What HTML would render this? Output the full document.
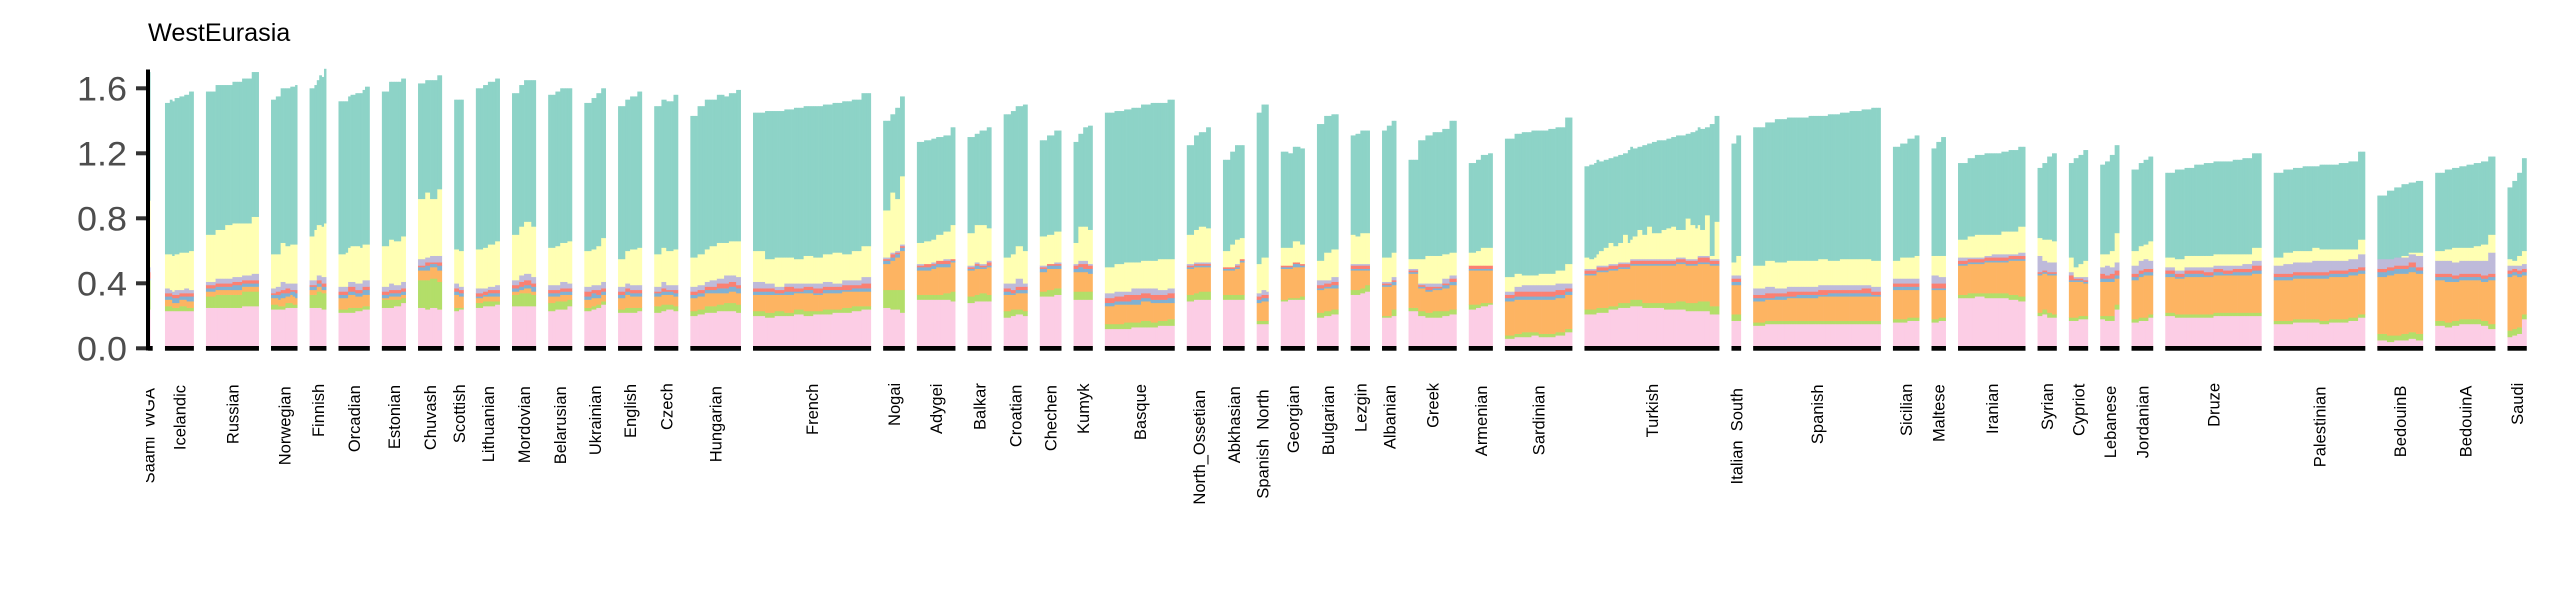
<!DOCTYPE html>
<html>
<head>
<meta charset="utf-8">
<title>WestEurasia</title>
<style>
html,body{margin:0;padding:0;background:#fff;}
svg{display:block;font-family:"Liberation Sans",Arial,sans-serif;}
</style>
</head>
<body>
<svg id="chart" xmlns="http://www.w3.org/2000/svg" width="2550" height="600" viewBox="0 0 2550 600">
<rect x="0" y="0" width="2550" height="600" fill="#ffffff"/>
<text x="148" y="41" font-size="25.2" fill="#000000">WestEurasia</text>
<defs>
<clipPath id="clip-saami"><rect x="146" y="370" width="9.5" height="130"/></clipPath>
<clipPath id="clip-spanish-north"><rect x="1250" y="370" width="20.5" height="130"/></clipPath>
<clipPath id="clip-italian-south"><rect x="1720" y="370" width="23.5" height="130"/></clipPath>
</defs>
<g id="bars"></g>
<g id="rails"></g>
<g id="labels"></g>
<g id="axis"></g>
</svg>
<script>
const populations=["Saami_WGA","Icelandic","Russian","Norwegian","Finnish","Orcadian","Estonian","Chuvash","Scottish","Lithuanian","Mordovian","Belarusian","Ukrainian","English","Czech","Hungarian","French","Nogai","Adygei","Balkar","Croatian","Chechen","Kumyk","Basque","North_Ossetian","Abkhasian","Spanish_North","Georgian","Bulgarian","Lezgin","Albanian","Greek","Armenian","Sardinian","Turkish","Italian_South","Spanish","Sicilian","Maltese","Iranian","Syrian","Cypriot","Lebanese","Jordanian","Druze","Palestinian","BedouinB","BedouinA","Saudi"];
const sampleCounts=[1,12,22,11,7,13,10,10,4,10,10,10,9,10,10,21,49,9,16,10,10,9,8,29,10,9,5,10,9,8,6,20,10,28,56,4,53,11,6,28,8,8,8,9,40,38,19,25,8];
const yTicks=[0,0.4,0.8,1.2,1.6];
const yTickLabels=["0.0","0.4","0.8","1.2","1.6"];
const seriesColors=["#FCCDE5","#B3DE69","#FDB462","#80B1D3","#FB8072","#BEBADA","#FFFFB3","#8DD3C7"];
/* Series heights in hundredths of the y axis, one row per population, listed left to right inside the population */
const pink=[[24],[23,23,23,23],[25,25,25,25,26,26],[24,24,25,25],[25,25,24],[22,22,23,24],[25,25,26,28],[25,24,25,24],[23,24],[25,26,26,27],[26,26,26,26],[23,24,24,26],[23,24,25,27],[22,22,22,23],[22,23,24,23],[20,21,22,22,23,23,23,22],[20,19,20,20,21,20,21,21,22,22,23,24],[25,24,24,22],[30,30,30,30,30,29],[28,29,29,29],[19,20,21,20],[32,32,33],[30,30,30,30],[12,12,12,13,13,13,14,14],[29,30,30,30],[30,30,30,30],[15,15,15],[29,30,30,30],[19,20,21],[33,33,34,35],[19,19,20],[23,20,19,19,20,21],[24,25,26,27],[6,7,7,8,7,7,8,10],[21,22,24,25,26,25,25,24,24,23,23,21],[17,17],[14,15,15,15,15,15,15,15,15,15,15,15],[16,16,17,17],[16,17],[31,31,32,31,31,31,30,29],[20,21,19,19],[17,17,18,18],[18,17,17,24],[16,17,17,19],[20,19,19,19,19,20,20,20,20,20],[15,15,16,16,16,15,16,16,17,19],[5,4,5,5,6,5],[14,13,14,15,15,15,14,12],[7,8,9,18]];
const green=[[18],[3,2,3,2],[7,8,8,8,9,9],[3,2,3,2],[8,10,10],[2,3,2,2],[5,5,4,3],[17,18,18,17],[2,1],[3,3,3,2],[7,8,8,7],[5,5,5,4],[2,2,2,2],[2,3,3,2],[4,4,3,3],[3,3,4,4,4,5,5,5],[3,3,3,2,3,3,2,3,2,3,3,2],[11,12,12,14],[3,3,3,3,4,6],[4,4,5,4],[4,4,3,3],[3,4,4],[5,5,5,5],[3,3,4,3,4,3,3,4],[4,4,5,5],[3,3,3,3],[2,2,2],[1,1,1,2],[3,3,3],[3,3,3,4],[1,1,4],[2,3,3,4,3,3],[3,2,2,1],[2,2,3,2,2,2,2,2],[3,3,2,3,4,3,3,4,5,5,6,5],[4,4],[2,2,2,2,2,2,2,2,2,2,2,2],[2,2,2,2],[2,2],[2,3,2,3,3,3,3,3],[2,3,3,2],[2,2,2,2],[2,3,3,3],[2,2,2,2],[2,2,2,2,2,2,2,2,2,2],[2,2,2,2,2,2,2,2,2,2],[4,4,3,4,4,4],[3,3,3,3,3,3,3,3],[4,4,4,3]];
const orange=[[0],[4,3,4,4],[3,3,3,3,3,3],[4,4,5,4,5,4],[3,3,2],[7,8,7,7],[1,2,2,2],[6,6,7,7],[8,7],[3,3,3,3],[2,2,3,2],[4,3,4,3],[5,5,4,4],[7,8,7,7],[6,6,6,6],[8,8,8,8,7,6,7,7],[10,11,10,11,10,11,10,10,10,10,9,9],[16,18,20,24],[15,15,16,17,16,18],[16,16,15,17],[10,9,10,11],[12,13,12],[12,12,12,11],[11,12,11,11,12,12,11,10],[16,16,15,15],[15,15,16,20],[11,12,12],[19,18,19,18],[14,14,13],[12,12,11,9],[18,18,15],[21,14,13,13,14,15],[21,21,20,20],[21,21,20,20,21,21,21,21],[21,22,22,21,21,23,23,23,23,23,23,25],[18,18],[13,13,13,14,14,14,15,15,15,15,15,15],[18,18,17,17],[18,17],[18,18,18,19,19,19,21,22],[23,22,23,24],[22,22,21,20],[21,21,21,16],[24,25,26,24],[22,22,23,23,23,23,23,23,23,24],[25,25,25,25,25,26,26,26,26,25],[35,37,38,37,37,37],[25,25,24,24,24,24,24,27],[33,33,31,24]];
const blue=[[1],[2,3,2,3],[2,2,2,3,2,2],[2,3,2,3],[2,2,2],[2,2,2,3],[2,2,2,2],[2,3,2,3],[2,2],[1,1,2,2],[2,2,2,3],[2,2,2,2],[2,3,2,2],[2,2,2,2],[2,2,2,2],[2,2,2,2,3,3,3,3],[2,2,1,2,1,2,1,2,2,1,2,2],[2,2,2,2],[2,2,2,2,2,1],[1,2,1,1],[2,1,2,2],[2,2,2],[2,3,2,3],[2,2,2,3,2,2,2,3],[1,1,1,1],[1,1,1,1],[2,2,2],[1,1,2,1],[1,1,2],[1,1,1,1],[1,1,2],[1,1,1,1,2,2],[1,1,1,1],[2,2,2,2,2,2,2,2],[1,1,1,1,1,1,1,1,1,1,1,1],[2,2],[2,1,2,1,2,2,1,2,2,2,2,1],[2,2,2,2],[1,1],[1,1,1,1,1,1,1,1],[1,1,1,1],[1,1,1,1],[2,2,2,2],[2,2,2,2],[2,1,2,2,1,2,1,2,2,2],[2,2,2,2,2,2,2,2,2,2],[3,3,3,3,3,2],[2,3,2,2,2,2,2,2],[2,2,2,2]];
const red=[[4],[2,2,2,2],[2,2,2,2,2,2],[1,2,2,3,1,2],[1,2,2],[2,3,2,2],[2,2,2,2],[1,2,1,2],[2,2],[2,2,2,2],[2,3,3,2],[2,2,2,2],[3,2,3,2],[2,2,2,2],[1,2,1,2],[2,2,2,2,3,3,3,2],[2,2,2,3,2,2,3,2,2,3,2,3],[1,2,1,1],[1,2,1,2,2,1],[1,1,1,2],[2,2,2,2],[1,1,1],[2,2,3,2],[3,3,4,3,3,3,3,3],[1,1,1,1],[1,1,1,1],[2,2,2],[1,1,1,1],[2,2,2],[2,2,2,2],[1,1,1],[1,1,2,1,1,2],[2,2,2,2],[2,3,3,3,3,3,3,2],[2,2,2,2,2,2,2,2,2,2,3,2],[2,2],[2,3,2,3,2,2,3,2,2,2,3,2],[2,2,2,2],[3,3],[2,2,2,2,2,2,2,2],[1,1,1,1],[3,1,1,1],[3,2,3,3],[2,2,2,2],[2,2,2,2,2,2,2,2,2,3],[2,2,2,2,2,2,2,2,2,2],[2,2,2,2,3,2],[2,2,2,2,2,2,2,2],[2,2,2,2]];
const purple=[[3],[3,2,3,2,3,2],[2,3,3,3,3,4],[3,3,5,3,4,4],[3,3,4],[3,3,4,4],[3,4,3,4],[4,3,4,4],[3,2],[3,2,2,3],[3,4,4,4],[3,3,4,3],[3,3,3,4],[3,3,3,3],[3,4,3,3],[3,3,3,4,3,5,4,5],[4,3,2,2,3,2,3,3,2,3,3,4],[1,1,1,1],[1,0,1,0,1,0],[1,1,1,1],[3,4,5,2],[1,0,1],[1,2,2,1],[3,3,2,4,3,4,3,3],[1,1,1,1],[0,0,1,0],[2,3,2],[0,0,0,0],[3,2,3],[1,1,1,1],[1,1,2],[1,1,2,2,3,2],[0,0,0,0],[2,3,4,4,4,4,4,3],[1,1,1,1,1,1,1,1,1,1,1,1],[2,2],[4,4,3,3,3,3,3,3,3,3,2,3],[3,3,3,3],[5,4],[2,1,1,1,2,2,1,2],[10,6,6,6],[2,1,1,2],[4,6,4,5],[5,6,6,5],[2,2,2,2,3,2,3,2,3,3],[5,6,6,6,7,7,6,6,6,8],[6,5,5,5,5,7],[8,8,8,8,8,8,9,13],[3,2,3,3]];
const yellow=[[41],[21,22,22,23,22,24],[29,30,33,33,32,35],[21,20,24,23,24,24],[27,31,31,33],[20,21,22,23,22,22],[25,27,27,28],[37,40,35,41],[21,22],[24,25,26,27],[28,30,32,31],[23,24,24,26],[22,22,24,27],[17,20,22,23],[20,21,21,22],[18,19,20,21,22,20,21,22],[19,15,18,16,15,17,16,17,19,16,18,19],[29,37,32,42],[13,14,14,16,17,21],[20,23,24,20],[16,18,20,20],[18,18,19],[13,21,21,21],[16,17,18,16,17,17,19,18],[18,20,22,21],[10,14,15,13],[18,20,21],[11,11,13,12],[12,17,17],[18,17,19,19],[15,15,15],[6,15,17,17,15,14],[8,9,11,11],[9,8,6,6,7,7,8,12],[7,6,7,9,11,13,11,12,17,12,14,18,15,20,16,16,18,19,20,17,17,25,21,19,16,25,2,23],[8,12],[14,16,16,16,16,16,16,15,16,16,16,16],[11,13,13,14],[12,13],[11,13,14,13,12,14,14,16],[11,13,14,13],[9,6,8,10],[8,7,10,18],[9,9,9,12],[6,7,7,7,7,7,7,7,6,8],[5,7,7,7,8,7,7,7,6,9],[0,0,0,1,1,2],[6,7,9,8,8,9,10,11],[4,3,6,8]];
const teal=[[79],[93,95,96,96,97,98],[88,89,86,87,89,89],[95,97,95,97,97,98],[91,89,92,95],[94,93,93,94,95,97],[95,97,98,97],[71,69,73,70],[92,93],[99,100,100,100],[87,87,87,90],[94,95,95,94],[91,93,94,92],[94,93,94,96],[91,91,92,95],[87,91,92,90,91,90,91,93],[85,91,90,91,93,92,93,92,92,94,93,94],[55,48,56,49],[62,62,62,60,59,60],[59,56,58,62],[88,88,86,90],[59,61,62],[62,57,61,64],[95,94,94,95,96,97,96,98],[55,58,58,62],[56,57,58,57],[93,94,94],[59,58,58,59],[84,84,83],[61,63,63,63],[78,81,81],[61,73,74,76,77,81],[55,56,57,58],[85,86,88,89,88,89,88,90],[56,58,58,55,54,52,55,54,50,57,54,51,55,51,56,57,55,55,55,58,58,52,57,60,62,54,81,65],[73,74],[85,85,88,88,88,89,88,90,90,91,92,94],[70,70,73,74],[66,70,73],[47,48,49,50,50,49,50,49],[43,47,51,54],[58,67,67,68],[55,57,59,54],[50,51,52,52],[52,55,54,56,57,57,57,58,59,58],[52,51,51,52,50,52,52,53,54,54],[39,42,43,44,43,44],[48,49,49,50,51,51,51,48],[44,49,51,57]];
const seriesValues=[pink,green,orange,blue,red,purple,yellow,teal];
const seriesNames=["pink","green","orange","blue","red","purple","yellow","teal"];

const NS="http://www.w3.org/2000/svg";
const barStep=2.41;
const gapBars=5;
const firstX=148.1;
const y0=348.3;
const pxPerUnit=162.5;
function xScale(barIndex){return firstX+barIndex*barStep;}
function yScale(value){return y0-value*pxPerUnit;}

const barsLayer=document.getElementById("bars");
const railsLayer=document.getElementById("rails");
const labelsLayer=document.getElementById("labels");
const axisLayer=document.getElementById("axis");

let cursor=0;
populations.forEach(function(name,g){
  const n=sampleCounts[g];
  const startX=xScale(cursor);
  const endX=xScale(cursor+n);
  for(let i=0;i<n;i++){
    let acc=0;
    seriesValues.forEach(function(series,s){
      const list=series[g];
      const h=list[Math.floor(i*list.length/n)]/100;
      if(h>0){
        const el=document.createElementNS(NS,"rect");
        el.setAttribute("x",xScale(cursor+i).toFixed(2));
        el.setAttribute("y",yScale(acc+h).toFixed(2));
        el.setAttribute("width",(barStep+(i<n-1?0.35:0)).toFixed(2));
        el.setAttribute("height",(h*pxPerUnit+0.3).toFixed(2));
        el.setAttribute("fill",seriesColors[s]);
        
        
        barsLayer.appendChild(el);
      }
      acc+=h;
    });
  }
  const rail=document.createElementNS(NS,"rect");
  rail.setAttribute("x",startX.toFixed(2));
  rail.setAttribute("y","346");
  rail.setAttribute("width",(endX-startX+(g===0?2.2:0)).toFixed(2));
  rail.setAttribute("height","4.7");
  rail.setAttribute("fill","#000000");
  
  
  railsLayer.appendChild(rail);

  const label=document.createElementNS(NS,"text");
  label.textContent=name;
  label.setAttribute("font-size","16.5");
  label.setAttribute("fill","#000000");
  
  
  labelsLayer.appendChild(label);
  const len=label.getComputedTextLength();
  const cx=g===0?154.5:(startX+endX)/2+6;
  const by=378.5+1.1*len;
  label.setAttribute("transform","translate("+cx.toFixed(2)+","+by.toFixed(2)+") rotate(-90)");
  if(name==="Saami_WGA"||name==="Spanish_North"||name==="Italian_South"){
    const wrap=document.createElementNS(NS,"g");
    wrap.setAttribute("clip-path",name==="Saami_WGA"?"url(#clip-saami)":name==="Spanish_North"?"url(#clip-spanish-north)":"url(#clip-italian-south)");
    
    
    labelsLayer.appendChild(wrap);
    wrap.appendChild(label);
  }
  cursor+=n+gapBars;
  if(g===0){cursor+=1;}
});

yTicks.forEach(function(v,i){
  const tick=document.createElementNS(NS,"rect");
  tick.setAttribute("x","136");
  tick.setAttribute("y",(yScale(v)-2).toFixed(2));
  tick.setAttribute("width","10.5");
  tick.setAttribute("height","4");
  tick.setAttribute("fill","#333333");
  
  
  axisLayer.appendChild(tick);
  const txt=document.createElementNS(NS,"text");
  txt.textContent=yTickLabels[i];
  txt.setAttribute("x","127");
  txt.setAttribute("y",(yScale(v)+12).toFixed(2));
  txt.setAttribute("text-anchor","end");
  txt.setAttribute("font-size","34");
  txt.setAttribute("textLength","50");
  txt.setAttribute("lengthAdjust","spacingAndGlyphs");
  txt.setAttribute("fill","#4D4D4D");
  
  
  axisLayer.appendChild(txt);
});
const axisLine=document.createElementNS(NS,"rect");
axisLine.setAttribute("x","146");
axisLine.setAttribute("y","69.5");
axisLine.setAttribute("width","4");
axisLine.setAttribute("height","281");
axisLine.setAttribute("fill","#000000");


axisLayer.appendChild(axisLine);
</script>
</body>
</html>
